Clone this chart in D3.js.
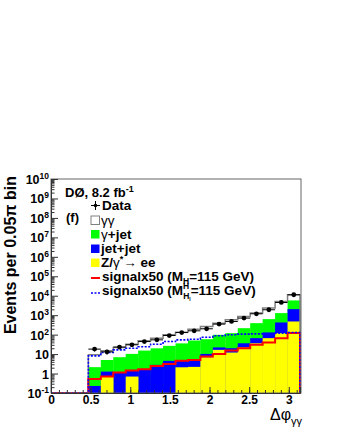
<!DOCTYPE html>
<html>
<head>
<meta charset="utf-8">
<script src="https://cdn.jsdelivr.net/npm/d3@7"></script>
<style>
body { margin: 0; background: #fff; }
svg { display: block; font-family: "Liberation Sans", Arial, sans-serif; }
</style>
</head>
<body>
<div id="chart"></div>
<script>
// 20 bins of 0.05*pi in delta phi, first three are empty
var binWidth = 0.05 * Math.PI;
var data   = [0, 0, 0, 18, 13, 23, 30, 44, 54, 90, 128, 157, 200, 347, 475, 708, 1180, 1900, 4500, 11200];
var zee    = [0, 0, 0, 0, 0.7, 0, 0.7, 0, 0, 0, 2.1, 2.2, 6.9, 16.5, 12, 22, 36, 66, 120, 475];
var jetjet = [0, 0, 0, 0.23, 0.56, 1.12, 0.83, 1.66, 2.8, 4.5, 2.4, 2.8, 3.3, 5.5, 8, 14, 30, 63, 302, 1575];
var gjet   = [0, 0, 0, 1.9, 3.7, 5.8, 8.7, 13.5, 17, 22, 31, 45, 48, 76, 99, 179, 324, 498, 858, 3690];
var gg     = [0, 0, 0, 7, 10, 15, 22, 33, 46, 72, 98, 141, 204, 292, 461, 645, 890, 1683, 3820, 5560];
var signalA = [0, 0, 0, 0.53, 0.7, 1.12, 1.42, 1.66, 2.47, 3.1, 4.6, 5.0, 7.5, 10.2, 15.2, 20, 30, 39, 66, 120];
var signalB = [0, 0, 0, 8.1, 12, 16.5, 20, 24, 32, 44, 54, 58, 74, 87, 98, 106, 110, 114, 119, 128];
var xTicks = [0, 0.5, 1, 1.5, 2, 2.5, 3];
var yExp = [-1, 0, 1, 2, 3, 4, 5, 6, 7, 8, 9, 10];

var W = 340, H = 440;
var padL = 51, padR = 300, padT = 179, padB = 393;

var svg = d3.select("#chart").append("svg").attr("width", W).attr("height", H);

var x = d3.scaleLinear().domain([0, Math.PI]).range([padL, padR]);
var y = d3.scaleLog().domain([0.1, 1e10]).range([padB, padT]);

function yc(v) { return y(Math.max(v, 0.1)); }

// stacked sums
var cumZ = zee.slice();
var cumJ = zee.map(function(v, i) { return v + jetjet[i]; });
var cumG = cumJ.map(function(v, i) { return v + gjet[i]; });
var total = cumG.map(function(v, i) { return v + gg[i]; });

function fillBins(vals, color) {
    svg.append("g").selectAll("rect")
        .data(vals)
        .enter().append("rect")
        .attr("x", function(d, i) { return x(i * binWidth); })
        .attr("width", x(binWidth) - x(0) + 0.3)
        .attr("y", function(d) { return yc(d); })
        .attr("height", function(d) { return padB - yc(d); })
        .attr("fill", color);
}

function stepPath(vals) {
    var p = "M" + x(0) + "," + padB;
    for (var i = 0; i < vals.length; i++) {
        p += "V" + yc(vals[i]) + "H" + x((i + 1) * binWidth);
    }
    p += "V" + padB;
    return p;
}

fillBins(total, "#ffffff");
fillBins(cumG, "#00ff00");
fillBins(cumJ, "#0000ff");
fillBins(cumZ, "#ffff00");

svg.append("path").attr("d", stepPath(total))
    .attr("fill", "none").attr("stroke", "#808080").attr("stroke-width", 1.5);
svg.append("path").attr("d", stepPath(signalA))
    .attr("fill", "none").attr("stroke", "#ff0000").attr("stroke-width", 2);
svg.append("path").attr("d", stepPath(signalB))
    .attr("fill", "none").attr("stroke", "#0000ff").attr("stroke-width", 1.6)
    .attr("stroke-dasharray", "2,1.5");

// data points
var pts = svg.append("g");
data.forEach(function(d, i) {
    if (d <= 0) return;
    var cx = x((i + 0.5) * binWidth);
    var e = Math.sqrt(d);
    pts.append("line").attr("x1", x(i * binWidth)).attr("x2", x((i + 1) * binWidth))
        .attr("y1", y(d)).attr("y2", y(d)).attr("stroke", "#000").attr("stroke-width", 1);
    pts.append("line").attr("x1", cx).attr("x2", cx)
        .attr("y1", y(d + e)).attr("y2", y(Math.max(d - e, 0.1))).attr("stroke", "#000").attr("stroke-width", 1);
    pts.append("circle").attr("cx", cx).attr("cy", y(d)).attr("r", 2.4).attr("fill", "#000");
});

// frame
svg.append("rect").attr("x", padL).attr("y", padT).attr("width", padR + 1 - padL).attr("height", padB - padT)
    .attr("fill", "none").attr("stroke", "#666").attr("stroke-width", 1);

// x axis ticks inside
var xMinor = d3.range(0, 3.15, 0.1);
svg.append("g").attr("transform", "translate(0," + padB + ")")
    .call(d3.axisBottom(x).tickValues(xMinor).tickSize(-3).tickFormat(""))
    .call(function(g) { g.select(".domain").remove(); g.selectAll("line").attr("stroke", "#333"); });
var xa = svg.append("g").attr("transform", "translate(0," + padB + ")")
    .call(d3.axisBottom(x).tickValues(xTicks).tickSize(-6).tickPadding(2.5).tickFormat(d3.format("")));
xa.select(".domain").attr("stroke", "#333");
xa.selectAll("line").attr("stroke", "#333");
xa.selectAll("text").attr("font-size", 12).attr("font-weight", "bold").attr("fill", "#000")
    .attr("font-family", "Liberation Sans, Arial, sans-serif");

// y axis ticks inside
var yMinor = [];
yExp.forEach(function(k) {
    if (k >= 10) return;
    for (var m = 2; m <= 9; m++) yMinor.push(m * Math.pow(10, k));
});
svg.append("g").attr("transform", "translate(" + padL + ",0)")
    .call(d3.axisLeft(y).tickValues(yMinor).tickSize(-3.5).tickFormat(""))
    .call(function(g) { g.select(".domain").remove(); g.selectAll("line").attr("stroke", "#333"); });
var ya = svg.append("g").attr("transform", "translate(" + padL + ",0)")
    .call(d3.axisLeft(y).tickValues(yExp.map(function(k) { return Math.pow(10, k); })).tickSize(-7).tickFormat(""));
ya.select(".domain").attr("stroke", "#333");
ya.selectAll("line").attr("stroke", "#333");

var ylab = svg.append("g").attr("font-weight", "bold").attr("text-anchor", "end");
yExp.forEach(function(k) {
    var t = ylab.append("text").attr("x", 49).attr("y", y(Math.pow(10, k)) + 5);
    if (k === 0) {
        t.append("tspan").attr("font-size", 12.5).text("1");
    } else if (k === 1) {
        t.append("tspan").attr("font-size", 12.5).text("10");
    } else {
        t.append("tspan").attr("font-size", 12.5).text("10");
        t.append("tspan").attr("font-size", 8.5).attr("dy", -5).text(k);
    }
});

// axis titles
svg.append("text")
    .attr("transform", "translate(15.5,176) rotate(-90)")
    .attr("text-anchor", "end").attr("font-size", 16).attr("font-weight", "bold")
    .text("Events per 0.05\u03c0 bin");

var xt = svg.append("text").attr("x", 302).attr("y", 420).attr("text-anchor", "end").attr("font-size", 16);
xt.append("tspan").text("\u0394\u03c6");
xt.append("tspan").attr("font-size", 11).attr("dy", 5).text("\u03b3\u03b3");

// labels and legend
var lg = svg.append("g").attr("font-size", 13.5).attr("font-weight", "bold");
var dz = lg.append("text").attr("x", 65).attr("y", 197).attr("font-size", 13);
dz.append("tspan").text("D\u00d8, 8.2 fb");
dz.append("tspan").attr("font-size", 9).attr("dy", -5).text("-1");
lg.append("text").attr("x", 66).attr("y", 222).attr("font-size", 13).text("(f)");

var rows = [210, 224.5, 238.5, 253, 267, 281, 295];
var bx = 91, tx = 102;

// Data
lg.append("line").attr("x1", bx).attr("x2", bx + 9).attr("y1", rows[0] - 4.5).attr("y2", rows[0] - 4.5).attr("stroke", "#000");
lg.append("line").attr("x1", bx + 4.5).attr("x2", bx + 4.5).attr("y1", rows[0] - 9).attr("y2", rows[0]).attr("stroke", "#000");
lg.append("circle").attr("cx", bx + 4.5).attr("cy", rows[0] - 4.5).attr("r", 1.8).attr("fill", "#000");
lg.append("text").attr("x", tx).attr("y", rows[0]).text("Data");

var boxes = [["#ffffff", "#808080"], ["#00ff00", "none"], ["#0000ff", "none"], ["#ffff00", "none"]];
boxes.forEach(function(b, i) {
    lg.append("rect").attr("x", bx).attr("y", rows[i + 1] - 8.5).attr("width", 8.5).attr("height", 8.5)
        .attr("fill", b[0]).attr("stroke", b[1]);
});
lg.append("text").attr("x", tx - 1).attr("y", rows[1]).attr("font-weight", "normal").text("\u03b3\u03b3");
var t2 = lg.append("text").attr("x", tx - 1).attr("y", rows[2]);
t2.append("tspan").attr("font-weight", "normal").text("\u03b3");
t2.append("tspan").text("+jet");
lg.append("text").attr("x", tx - 1).attr("y", rows[3]).text("jet+jet");
var t4 = lg.append("text").attr("x", tx - 1).attr("y", rows[4]);
t4.append("tspan").text("Z/");
t4.append("tspan").attr("font-weight", "normal").text("\u03b3");
t4.append("tspan").attr("font-size", 9).attr("dy", -5).text("*");
t4.append("tspan").attr("font-weight", "normal").attr("dy", 5).text("\u2192");
t4.append("tspan").text(" ee");

lg.append("line").attr("x1", bx).attr("x2", bx + 9).attr("y1", rows[5] - 3).attr("y2", rows[5] - 3)
    .attr("stroke", "#ff0000").attr("stroke-width", 2);
var t5 = lg.append("text").attr("x", tx).attr("y", rows[5]);
t5.append("tspan").text("signalx50 (M");
t5.append("tspan").attr("font-size", 8.5).attr("dy", 3).text("H");
t5.append("tspan").attr("dy", -3).text("=115 GeV)");

lg.append("line").attr("x1", bx).attr("x2", bx + 9).attr("y1", rows[6] - 2).attr("y2", rows[6] - 2)
    .attr("stroke", "#0000ff").attr("stroke-width", 1.6).attr("stroke-dasharray", "2,1.5");
var t6 = lg.append("text").attr("x", tx).attr("y", rows[6]);
t6.append("tspan").text("signalx50 (M");
t6.append("tspan").attr("font-size", 8.5).attr("dy", -6).text("H");
t6.append("tspan").attr("font-size", 8.5).attr("dx", -6).attr("dy", 10).text("H");
t6.append("tspan").attr("font-size", 5).attr("dy", 2).text("l");
t6.append("tspan").attr("dy", -6).text("=115 GeV)");
</script>
</body>
</html>
